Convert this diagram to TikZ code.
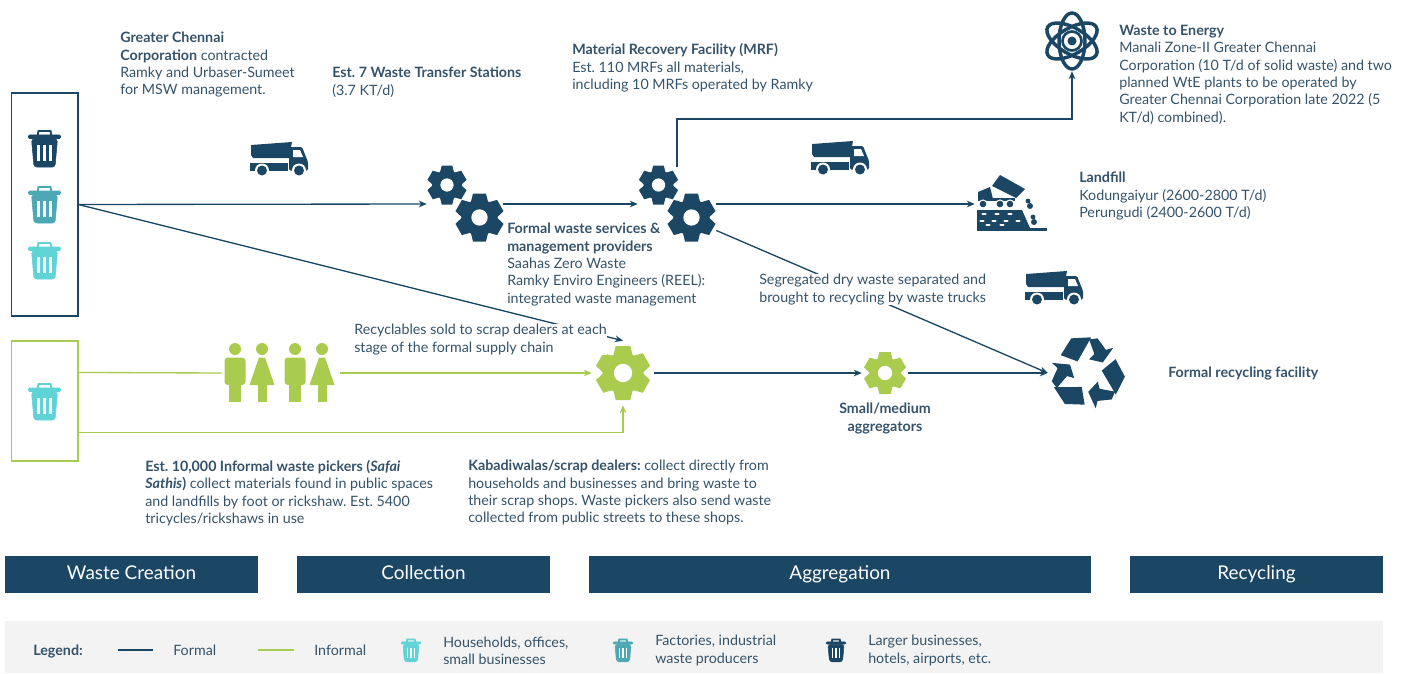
\documentclass[tikz,border=0pt]{standalone}
\usepackage{fontspec}
\setmainfont{Lato}[BoldFont={Lato Bold}]
\usepackage{xcolor}
\usetikzlibrary{positioning,arrows.meta}
\definecolor{navy}{HTML}{1B4664}
\definecolor{leaf}{HTML}{A9CB4E}
\definecolor{teal}{HTML}{4CA8B4}
\definecolor{aqua}{HTML}{5FD3D6}
\definecolor{ink}{HTML}{34536A}
\definecolor{strip}{HTML}{F3F3F3}

\tikzset{
    label/.style={inner sep=0pt, align=left, text=ink, font=\fontsize{10.7}{13}\selectfont\frenchspacing, anchor=north west},
    masked/.style={label, fill=white},
    icon/.style={inner sep=0pt, minimum width=#1},
    formal/.style={color=navy, line width=1pt, -{Stealth[length=6pt,width=5pt]}},
    informal/.style={color=leaf, line width=1pt, -{Stealth[length=6pt,width=5pt]}},
    stagebar/.style={fill=navy, text=white, minimum height=27.75pt, inner sep=0pt, text height=10pt, text depth=3pt, font=\fontsize{14.2}{16}\selectfont},
    bin/.pic={
        \fill[pic actions, rounded corners=0.8pt] (-16,-13) rectangle (16,-9.5);
        \draw[pic actions, fill=none, line width=1.4pt] (-7,-12) -- (-6,-17) -- (6,-17) -- (7,-12);
        \fill[pic actions, rounded corners=2pt] (-13,-9) -- (13,-9) -- (10.5,19) -- (-10.5,19) -- cycle;
        \foreach \s in {-6,0,6}
            \fill[white] (\s-1.2,-3) rectangle (\s+1.2,13);
    },
    gear/.pic={
        \fill[pic actions] (0,0) circle[radius=0.76];
        \foreach \a in {0,60,...,300}
            \fill[pic actions, rotate=\a] (-0.27,-1) -- (0.27,-1) -- (0.37,-0.6) -- (-0.37,-0.6) -- cycle;
        \fill[white] (0,0) circle[radius=0.34];
    },
    truck/.pic={
        \fill[pic actions] (-28,-14) -- (13,-17) -- (10,-1) -- (-26,-1) -- (-28,-4) -- cycle;
        \fill[pic actions] (-29,3.5) rectangle (9,11.5);
        \fill[pic actions, rounded corners=1pt] (10,-12) -- (23,-12) -- (29,3) -- (29,11.5) -- (10,11.5) -- cycle;
        \fill[white] (14,-9) -- (21,-9) -- (24,-2) -- (14,-2) -- cycle;
        \foreach \w in {-17,20} {
            \fill[white] (\w,11.5) circle[radius=7];
            \fill[pic actions] (\w,11.5) circle[radius=5];
        }
    },
    man/.pic={
        \fill[pic actions] (0,-24) circle[radius=6];
        \fill[pic actions, rounded corners=2.5pt] (-10.5,-15.5) rectangle (10.5,12);
        \fill[pic actions] (-6,8) rectangle (6,29);
    },
    woman/.pic={
        \fill[pic actions] (0,-24) circle[radius=6];
        \fill[pic actions] (-3,-15.5) -- (3,-15.5) -- (12.5,12) -- (-12.5,12) -- cycle;
        \fill[pic actions] (-4.5,8) rectangle (4.5,29);
    },
    atom/.pic={
        \foreach \a in {90,30,150}
            \draw[navy, line width=2.6pt, rotate=\a] (0,0) circle[x radius=28, y radius=13];
        \draw[navy, line width=2pt] (0,0) circle[radius=9.5];
        \fill[navy] (0,0) circle[radius=4.5];
    },
    dump/.pic={
        \fill[navy] (-20,-18) -- (-12,-29) -- (13,-15) -- (4,-6) -- cycle;
        \fill[navy] (-34,-12) -- (-22,-17) -- (-19,-5) -- (-34,-5) -- cycle;
        \fill[navy] (-34,-6) rectangle (3,-3);
        \foreach \w in {-29,-12,-2} {
            \fill[white] (\w,0) circle[radius=4.6];
            \fill[navy] (\w,0) circle[radius=3.3];
        }
        \fill[navy] (-35,6) -- (10,6) -- (18,24) -- (-35,24) -- cycle;
        \fill[navy] (-35,24) rectangle (35,26.5);
        \foreach \p/\q in {-28/10,-15/10,-2/10,-30/17,-18/17,-6/17,6/17,-24/21,-10/21}
            \fill[white] (\p,\q) ellipse[x radius=2.6, y radius=1];
        \foreach \p/\q/\r in {16/-3/2.4,18/2/3,21/13/2.4,22/18/3}
            \fill[navy] (\p,\q) circle[radius=\r];
    },
    recycle/.pic={
        \foreach \a in {0,120,240} {
            \fill[navy, rotate=\a] (-25,-17) -- (-15,-33) -- (4,-34) -- (-9,-11) -- cycle;
            \fill[navy, rotate=\a] (2,-32) -- (10,-33) -- (18,-22) -- (25,-24) -- (15,-10) -- (2,-13) -- (7,-18) -- cycle;
        }
    }
}

\begin{document}
\begin{tikzpicture}[x=0.75pt, y=-0.75pt]

    \useasboundingbox (0,0) rectangle (1411,674);

    \node[draw=navy, line width=1pt, minimum width=50pt, minimum height=167pt, inner sep=0pt] (binbox) at (44.5,204.5) {};
    \node[draw=leaf, line width=1pt, minimum width=50pt, minimum height=90pt, inner sep=0pt] (pickbox) at (44.5,401) {};

    \pic[fill=navy, draw=navy] at (44.5,148) {bin};
    \pic[fill=teal, draw=teal] at (44.5,204) {bin};
    \pic[fill=aqua, draw=aqua] at (44.5,260) {bin};
    \pic[fill=aqua, draw=aqua] at (44.5,401) {bin};

    \node[icon=57pt, minimum height=55.5pt] (gearA) at (465,204) {};
    \node[icon=58.5pt, minimum height=55.5pt] (gearB) at (677,204) {};
    \node[icon=46.5pt, minimum height=48pt] (scrap) at (623,373) {};
    \node[icon=34.5pt, minimum height=30pt] (aggregator) at (885,373) {};
    \node[icon=88.5pt, minimum height=45pt] (people) at (281,373) {};
    \node[icon=55.5pt, minimum height=42pt] (landfill) at (1012,204) {};
    \node[icon=58.5pt, minimum height=56pt] (recycling) at (1087,373) {};
    \node[icon=41pt, minimum height=45pt] (energy) at (1072,41) {};
    \coordinate (energyturn) at (1072,119);

    \pic[fill=navy, scale=19.5] at (447,185) {gear};
    \pic[fill=navy, scale=24] at (479.5,217.5) {gear};
    \pic[fill=navy, scale=19.5] at (658.5,185) {gear};
    \pic[fill=navy, scale=24] at (691.5,217.5) {gear};
    \pic[fill=leaf, scale=27] at (623,373) {gear};
    \pic[fill=leaf, scale=21] at (885,373) {gear};

    \pic[fill=navy] at (279,159) {truck};
    \pic[fill=navy] at (840,158) {truck};
    \pic[fill=navy] at (1054,288) {truck};

    \pic[fill=leaf] at (235,373) {man};
    \pic[fill=leaf] at (262,373) {woman};
    \pic[fill=leaf] at (295,373) {man};
    \pic[fill=leaf] at (322,373) {woman};

    \pic at (energy) {atom};
    \pic at (landfill) {dump};
    \pic[scale=1.05] at (recycling) {recycle};

    \path[formal]
        (binbox.east) edge (gearA.west)
        (binbox.east) edge (scrap.north)
        (gearA.east) edge (gearB.west)
        (gearB.east) edge (landfill.west)
        (gearB.-34) edge (recycling.west)
        (scrap.east) edge (aggregator.west)
        (aggregator.east) edge (recycling.west);
    \draw[formal] (gearB.north) |- (energyturn) -- (energy.south);

    \path[informal]
        (pickbox.40) edge[-] (people.west)
        (people.east) edge (scrap.west);
    \draw[informal] (pickbox.-43) -| (scrap.south);

    \node[label] (corporation) at (120,32) {\textbf{Greater Chennai}\\\textbf{Corporation} contracted\\Ramky and Urbaser-Sumeet\\for MSW management.};
    \node[label] (transfer) at (332,67) {\textbf{Est. 7 Waste Transfer Stations}\\(3.7 KT/d)};
    \node[label] (recovery) at (572,43.5) {\textbf{Material Recovery Facility (MRF)}\\Est. 110 MRFs all materials,\\including 10 MRFs operated by Ramky};
    \node[label] (wte) at (1119,25) {\textbf{Waste to Energy}\\Manali Zone-II Greater Chennai\\Corporation (10 T/d of solid waste) and two\\planned WtE plants to be operated by\\Greater Chennai Corporation late 2022 (5\\KT/d) combined).};
    \node[label] (dumpsite) at (1079,172) {\textbf{Landfill}\\Kodungaiyur (2600-2800 T/d)\\Perungudi (2400-2600 T/d)};
    \node[label] (providers) at (507,223) {\textbf{Formal waste services \&}\\\textbf{management providers}\\Saahas Zero Waste\\Ramky Enviro Engineers (REEL):\\integrated waste management};
    \node[masked] (sold) at (354,324) {Recyclables sold to scrap dealers at each\\stage of the formal supply chain};
    \node[masked] (segregated) at (759,274) {Segregated dry waste separated and\\brought to recycling by waste trucks};
    \node[label] (facility) at (1168,367) {\textbf{Formal recycling facility}};
    \node[label, align=center, anchor=north] (medium) at (885,403) {\textbf{Small/medium}\\\textbf{aggregators}};
    \node[label] (pickers) at (145,460) {\textbf{Est. 10,000 Informal waste pickers (\textit{Safai}}\\\textbf{\textit{Sathis})} collect materials found in public spaces\\and landfills by foot or rickshaw. Est. 5400\\tricycles/rickshaws in use};
    \node[label] (dealers) at (468,460) {\textbf{Kabadiwalas/scrap dealers:} collect directly from\\households and businesses and bring waste to\\their scrap shops. Waste pickers also send waste\\collected from public streets to these shops.};

    \node[stagebar, minimum width=190pt] (creation) at (131.5,574.5) {Waste Creation};
    \node[stagebar, minimum width=190pt] (collection) at (423.5,574.5) {Collection};
    \node[stagebar, minimum width=376.5pt] (aggregation) at (840,574.5) {Aggregation};
    \node[stagebar, minimum width=190pt] (recyclingbar) at (1256.5,574.5) {Recycling};

    \fill[strip] (5,621) rectangle (1383,673);
    \coordinate (formalA) at (118,650);
    \coordinate (formalB) at (153,650);
    \coordinate (informalA) at (258,650);
    \coordinate (informalB) at (294,650);
    \draw[navy, line width=1pt] (formalA) -- (formalB);
    \draw[leaf, line width=1pt] (informalA) -- (informalB);
    \node[label, anchor=west] (legend) at (33,651) {\textbf{Legend:}};
    \node[label, anchor=west] (formalkey) at (173,650) {Formal};
    \node[label, anchor=west] (informalkey) at (314,650) {Informal};
    \pic[fill=aqua, draw=aqua, scale=0.62] at (411,650) {bin};
    \pic[fill=teal, draw=teal, scale=0.62] at (623,650) {bin};
    \pic[fill=navy, draw=navy, scale=0.62] at (836,650) {bin};
    \node[label, anchor=west] (keyhouse) at (443,650.5) {Households, offices,\\small businesses};
    \node[label, anchor=west] (keyfactory) at (655,650.5) {Factories, industrial\\waste producers};
    \node[label, anchor=west] (keylarge) at (868,650.5) {Larger businesses,\\hotels, airports, etc.};

\end{tikzpicture}
\end{document}
